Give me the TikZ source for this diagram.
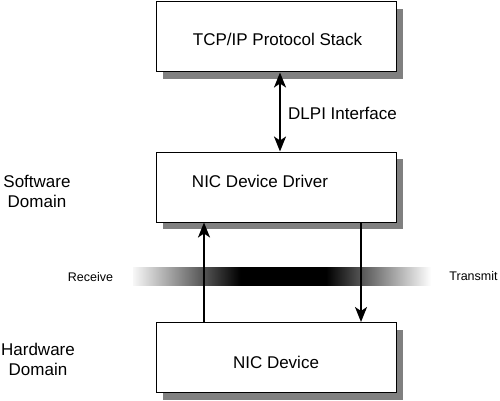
\documentclass[tikz,border=0pt]{standalone}
\usepackage{fontspec}
\setmainfont{Liberation Sans}
\usetikzlibrary{arrows.meta}
\pgfdeclarehorizontalshading{bandshade}{100bp}{rgb(0bp)=(0.97,0.97,0.97); rgb(25bp)=(0.97,0.97,0.97); rgb(43bp)=(0,0,0); rgb(57.4bp)=(0,0,0); rgb(75bp)=(1,1,1); rgb(100bp)=(1,1,1)}
\begin{document}
\begin{tikzpicture}[x=1pt,y=-1pt,
  box/.style={draw=black,line width=1pt,fill=white,minimum width=240pt,minimum height=70pt,inner sep=0pt},
  shadowbox/.style={fill=black!50,draw=none},
  boxtext/.style={font=\fontsize{17}{20}\selectfont,inner sep=0pt},
  sidetext/.style={font=\fontsize{17}{20}\selectfont,align=center,inner sep=0pt},
  smalltext/.style={font=\fontsize{12.5}{15}\selectfont,inner sep=0pt},
  flow/.style={line width=2pt,-{Stealth[length=15pt,width=12pt,inset=4pt]}},
  dflow/.style={line width=2pt,{Stealth[length=15pt,width=12pt,inset=4pt]}-{Stealth[length=15pt,width=12pt,inset=4pt]}}]
\useasboundingbox (0,0) rectangle (500,401);
% gradient band
\shade[shading=bandshade] (133,267) rectangle (431,285);
% shadows
\fill[shadowbox] (163,9) rectangle (403,79);
\fill[shadowbox] (163,159) rectangle (403,229);
\fill[shadowbox] (163,329.5) rectangle (403,399.5);
% boxes
\node[box] (b1) at (276,37) {};
\node[box] (b2) at (276,187) {};
\node[box] (b3) at (276,357.5) {};
\node[boxtext] (t1) at (277.5,39) {TCP/IP Protocol Stack};
\node[boxtext] (t2) at (260,181) {NIC Device Driver};
\node[boxtext] (t3) at (276,362) {NIC Device};
% connectors
\draw[dflow] ([xshift=4pt]b1.south) -- ([xshift=4pt]b2.north);
\draw[flow] ([xshift=-72pt]b3.north) -- ([xshift=-72pt]b2.south);
\draw[flow] ([xshift=85pt]b2.south) -- ([xshift=85pt]b3.north);
% labels
\node[boxtext,anchor=west] (dlpi) at (288,113) {DLPI Interface};
\node[sidetext] (sw) at (37,191) {Software\\Domain};
\node[sidetext] (hw) at (38,359) {Hardware\\Domain};
\node[smalltext] (rx) at (90.5,277) {Receive};
\node[smalltext] (tx) at (473.5,276) {Transmit};
\end{tikzpicture}
\end{document}
